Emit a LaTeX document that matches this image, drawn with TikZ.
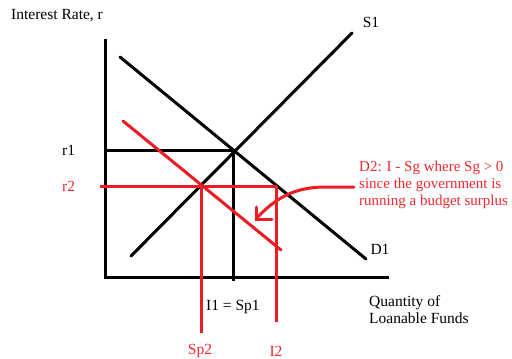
\documentclass[tikz,border=0pt]{standalone}
\usepackage{fontspec}
\setmainfont{Liberation Serif}
\definecolor{pen}{RGB}{237,28,36}
\definecolor{pentext}{RGB}{240,40,50}
\begin{document}
\begin{tikzpicture}[x=1bp,y=-1bp,
  blk/.style={draw=black,line width=3bp,line cap=round},
  rd/.style={draw=pen,line width=3bp,line cap=round},
  lbl/.style={font=\fontsize{15.5bp}{17.5bp}\selectfont,inner sep=0pt,text=black},
  rlbl/.style={lbl,text=pentext}]
\useasboundingbox[fill=white] (0,0) rectangle (512,358);
% axes
\coordinate (ytop) at (105,39);
\coordinate (orig) at (105,277);
\coordinate (xend) at (389,277);
\draw[blk,line cap=butt] (ytop) -- (orig) -- (xend);
% curves
\coordinate (d1a) at (120,57);
\coordinate (d1b) at (366,259);
\coordinate (s1a) at (131,256);
\coordinate (s1b) at (352,33);
\coordinate (e1) at (234,150);
\coordinate (r1l) at (105,150);
\coordinate (e1d) at (233,281);
\draw[blk] (d1a) -- (d1b);
\draw[blk] (s1a) -- (s1b);
\draw[blk,line cap=butt] (r1l) -- (e1);
\draw[blk,line cap=butt] (233,150) -- (e1d);
% red
\coordinate (d2a) at (123,121);
\coordinate (d2b) at (281,250);
\coordinate (r2l) at (100,186);
\coordinate (r2r) at (277,186);
\coordinate (sp2t) at (201,186);
\coordinate (sp2b) at (201,333);
\coordinate (i2t) at (276,186);
\coordinate (i2b) at (276,322);
\draw[rd] (d2a) -- (d2b);
\draw[rd,line cap=butt] (r2l) -- (r2r);
\draw[rd,line cap=butt] (sp2t) -- (sp2b);
\draw[rd,line cap=butt] (i2t) -- (i2b);
% arrow
\coordinate (arS) at (354,187);
\coordinate (arT) at (256,219);
\coordinate (ah1) at (256,207);
\coordinate (ah2) at (272,219);
\draw[rd] (arS) -- (325,187) .. controls (295,187) and (275,198) .. (arT);
\draw[rd,line join=miter] (ah1) -- (arT) -- (ah2);
% labels
\node[lbl,anchor=west] (ylab) at (11,16) {Interest Rate, r};
\node[lbl] (s1lab) at (371,22) {S1};
\node[lbl] (d1lab) at (380,249) {D1};
\node[lbl,anchor=west] (r1lab) at (62,150) {r1};
\node[rlbl,anchor=west] (r2lab) at (62,186) {r2};
\node[lbl,anchor=west] (i1lab) at (206,307) {I1 = Sp1};
\node[lbl,anchor=north west,align=left] (qlab) at (369,295) {Quantity of\\Loanable Funds};
\node[rlbl] (sp2lab) at (200,351) {Sp2};
\node[rlbl] (i2lab) at (276,351) {I2};
\node[rlbl,anchor=north west,align=left,font=\fontsize{15bp}{17bp}\selectfont] (d2lab) at (359,161) {D2: I - Sg where Sg > 0\\since the government is\\running a budget surplus};
\end{tikzpicture}
\end{document}
